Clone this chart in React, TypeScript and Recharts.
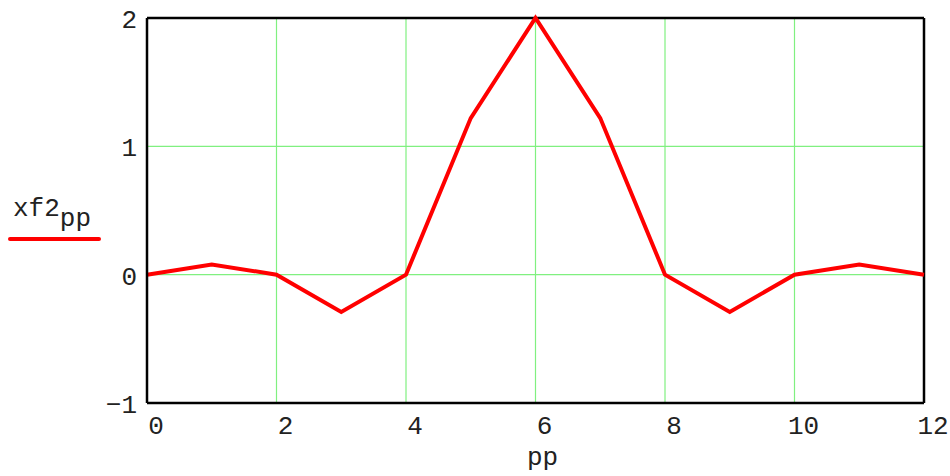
import React from "react";
import { CartesianGrid, Line, LineChart, ReferenceLine, XAxis, YAxis } from "recharts";

const ppValues = [0, 1, 2, 3, 4, 5, 6, 7, 8, 9, 10, 11, 12];
const xf2Values = [0, 0.08, 0, -0.29, 0, 1.22, 2, 1.22, 0, -0.29, 0, 0.08, 0];
const xTicks = [0, 2, 4, 6, 8, 10, 12];
const yTicks = [-1, 0, 1, 2];

const data = ppValues.map((pp, i) => ({ pp, xf2: xf2Values[i] }));

const FONT = "'Liberation Mono', 'Courier New', monospace";
const FS = 26;
const GRID = "#80f080";

function XTick({ x, y, payload }: any) {
    return (
        <text x={x + 9} y={y + 23} textAnchor="middle" fontFamily={FONT} fontSize={FS} fill="#222">
            {payload.value}
        </text>
    );
}

function YTick({ x, y, payload }: any) {
    const label = payload.value < 0 ? `\u2212${Math.abs(payload.value)}` : `${payload.value}`;
    return (
        <text x={x} y={y + 10} textAnchor="end" fontFamily={FONT} fontSize={FS} fill="#222">
            {label}
        </text>
    );
}

export default function App() {
    return (
        <div style={{ position: "absolute", left: 0, top: 0, width: 950, height: 476, background: "#fff" }}>
            <LineChart
                width={950}
                height={476}
                data={data}
                margin={{ top: 18, right: 26, left: 87, bottom: 13 }}
            >
                <CartesianGrid stroke={GRID} strokeWidth={1.2} />
                <XAxis
                    dataKey="pp"
                    type="number"
                    domain={[0, 12]}
                    ticks={xTicks}
                    tick={<XTick />}
                    tickLine={false}
                    axisLine={{ stroke: "#000", strokeWidth: 2.5 }}
                    height={60}
                    label={{
                        value: "pp",
                        position: "insideBottom",
                        offset: -2,
                        dx: 7,
                        style: { fontFamily: FONT, fontSize: FS, fill: "#222" },
                    }}
                />
                <YAxis
                    type="number"
                    domain={[-1, 2]}
                    ticks={yTicks}
                    tick={<YTick />}
                    tickLine={false}
                    axisLine={{ stroke: "#000", strokeWidth: 2.5 }}
                    width={60}
                    tickMargin={4}
                />
                <ReferenceLine x={12} stroke="#000" strokeWidth={2.5} />
                <ReferenceLine y={2} stroke="#000" strokeWidth={2.5} />
                <Line
                    type="linear"
                    dataKey="xf2"
                    stroke="#ff0000"
                    strokeWidth={4}
                    dot={false}
                    activeDot={false}
                    isAnimationActive={false}
                />
            </LineChart>
            <div
                style={{
                    position: "absolute",
                    left: 13,
                    top: 196,
                    fontFamily: FONT,
                    fontSize: FS,
                    color: "#222",
                    whiteSpace: "nowrap",
                    lineHeight: 1,
                }}
            >
                xf2<sub style={{ fontSize: FS, verticalAlign: "-10px" }}>pp</sub>
            </div>
            <div
                style={{
                    position: "absolute",
                    left: 8,
                    top: 237,
                    width: 93,
                    height: 4,
                    borderRadius: 2,
                    background: "#ff0000",
                }}
            />
        </div>
    );
}
